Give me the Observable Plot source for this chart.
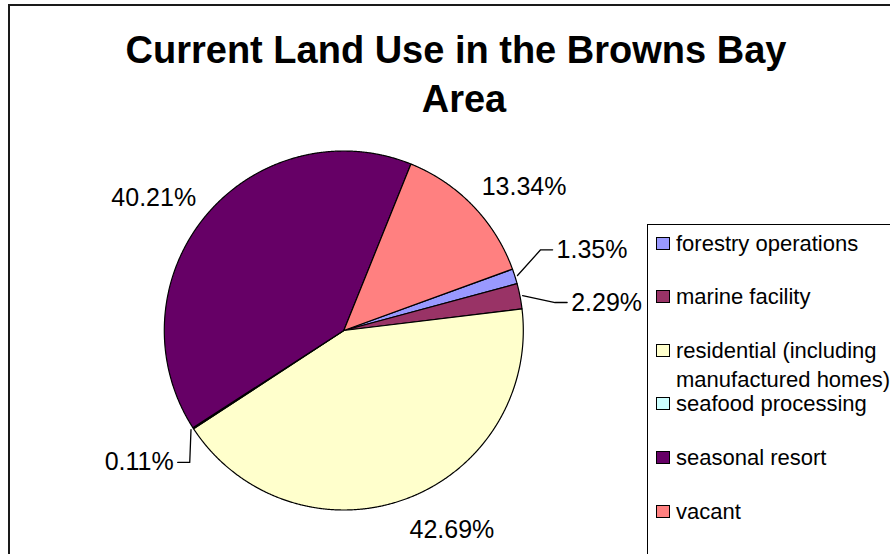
<!DOCTYPE html>
<html><head><meta charset="utf-8">
<script src="https://cdn.jsdelivr.net/npm/d3@7"></script>
<script src="https://cdn.jsdelivr.net/npm/@observablehq/plot@0.6"></script>
<style>
html,body{margin:0;padding:0;width:890px;height:554px;overflow:hidden;background:#fff;font-family:"Liberation Sans",Arial,sans-serif;}
#wrap{position:relative;width:890px;height:554px;overflow:hidden;}
#chart{position:absolute;left:0;top:0;}
.frame{position:absolute;left:8px;top:4px;width:900px;height:600px;border:2px solid #1a1a1a;box-sizing:border-box;pointer-events:none;}
.title{position:absolute;left:0;font-weight:bold;font-size:38px;line-height:38px;text-align:center;color:#000;white-space:nowrap;}
.legend{position:absolute;left:647px;top:224px;width:300px;height:400px;border-left:1.5px solid #000;border-top:1.5px solid #000;box-sizing:border-box;}
.entry{position:absolute;left:0;font-size:22px;line-height:29px;color:#000;}
.sw{position:absolute;left:8px;top:8px;width:12px;height:11px;border:1px solid #000;}
.lt{position:absolute;left:28px;top:0;width:218px;white-space:normal;}
</style></head>
<body>
<div id="wrap">
  <div id="chart"></div>
  <div class="title" id="t1" style="top:31px;width:912px;"></div>
  <div class="title" id="t2" style="top:80px;width:928px;"></div>
  <div class="legend" id="legend"></div>
  <div class="frame"></div>
</div>
<script>
// ---- data ----
const categories = ["forestry operations", "marine facility", "residential (including manufactured homes)", "seafood processing", "seasonal resort", "vacant"];
const shares = [1.35, 2.29, 42.69, 0.11, 40.21, 13.34];
const colors = ["#9999FF", "#993366", "#FFFFCC", "#CCFFFF", "#660066", "#FF8080"];
const valueLabels = ["1.35%", "2.29%", "42.69%", "0.11%", "40.21%", "13.34%"];
const titleLines = ["Current Land Use in the Browns Bay", "Area"];

// ---- layout ----
const cx = 343.3, cy = 330, R = 179.5;
const startDeg = 70;
const rad = Math.PI / 180;
// labels moved out with leader lines (angle shift in degrees, distance in radii)
const leaderLayout = {
  "forestry operations": {shift: -3.2, dist: 1.268, anchor: "start"},
  "marine facility": {shift: 4.0, dist: 1.276, anchor: "start"},
  "seafood processing": {shift: -4.8, dist: 1.199, anchor: "end"}
};

const rows = categories.map((c, i) => ({name: c, share: shares[i], label: valueLabels[i]}));
const arcs = d3.pie().sort(null).value(d => d.share)
  .startAngle(startDeg * rad).endAngle(startDeg * rad + 2 * Math.PI)(rows);

// slice outlines
const slicePts = [];
for (const a of arcs) {
  const n = Math.max(2, Math.ceil((a.endAngle - a.startAngle) / (0.25 * rad)));
  slicePts.push({name: a.data.name, x: 0, y: 0});
  for (let k = 0; k <= n; k++) {
    const t = a.startAngle + (a.endAngle - a.startAngle) * k / n;
    slicePts.push({name: a.data.name, x: Math.sin(t), y: Math.cos(t)});
  }
  slicePts.push({name: a.data.name, x: 0, y: 0});
}

// labels
const autoLabels = [], leaderLabels = [], leaderPts = [];
const halfW = 42.5 / R, halfHUp = 10 / R, halfHDown = 20 / R, gap = 12 / R;
for (const a of arcs) {
  const mid = (a.startAngle + a.endAngle) / 2;
  const ux = Math.sin(mid), uy = Math.cos(mid);
  const L = leaderLayout[a.data.name];
  if (L) {
    const ang = mid + L.shift * rad;
    const tx = L.dist * Math.sin(ang), ty = L.dist * Math.cos(ang);
    const s = L.anchor === "start" ? -1 : 1;
    leaderLabels.push({label: a.data.label, x: tx, y: ty, anchor: L.anchor});
    leaderPts.push({name: a.data.name, x: 1.015 * ux, y: 1.015 * uy});
    leaderPts.push({name: a.data.name, x: tx + s * 16 / R, y: ty});
    leaderPts.push({name: a.data.name, x: tx + s * 4 / R, y: ty});
  } else {
    const px = (1 + gap) * ux, py = (1 + gap) * uy;
    autoLabels.push({label: a.data.label, x: px + Math.sign(ux) * halfW, y: py + (uy >= 0 ? halfHUp : -halfHDown)});
  }
}

const font = "Liberation Sans, Arial, sans-serif";
const chart = Plot.plot({
  width: 890, height: 554,
  marginTop: 0, marginRight: 0, marginBottom: 0, marginLeft: 0,
  x: {domain: [-1, 1], range: [cx - R, cx + R]},
  y: {domain: [-1, 1], range: [cy + R, cy - R]},
  axis: null,
  color: {domain: categories, range: colors},
  style: {background: "transparent", overflow: "visible"},
  marks: [
    Plot.line(slicePts, {x: "x", y: "y", z: "name", fill: "name", stroke: "#000", strokeWidth: 1.2, strokeLinejoin: "round"}),
    Plot.line(leaderPts, {x: "x", y: "y", z: "name", stroke: "#000", strokeWidth: 1.3}),
    Plot.text(autoLabels, {x: "x", y: "y", text: "label", fontSize: 25, fontFamily: font, fill: "#000", textAnchor: "middle"}),
    Plot.text(leaderLabels.filter(d => d.anchor === "start"), {x: "x", y: "y", text: "label", fontSize: 25, fontFamily: font, fill: "#000", textAnchor: "start"}),
    Plot.text(leaderLabels.filter(d => d.anchor === "end"), {x: "x", y: "y", text: "label", fontSize: 25, fontFamily: font, fill: "#000", textAnchor: "end"})
  ]
});
document.getElementById("chart").appendChild(chart);

document.getElementById("t1").textContent = titleLines[0];
document.getElementById("t2").textContent = titleLines[1];

// legend
const legend = document.getElementById("legend");
categories.forEach((c, i) => {
  const e = document.createElement("div");
  e.className = "entry";
  e.style.top = (242 - 224 - 14.5 + i * 53.6) + "px";
  const sw = document.createElement("div");
  sw.className = "sw";
  sw.style.background = colors[i];
  const t = document.createElement("div");
  t.className = "lt";
  t.textContent = c;
  e.appendChild(sw); e.appendChild(t);
  legend.appendChild(e);
});
</script>
</body></html>
